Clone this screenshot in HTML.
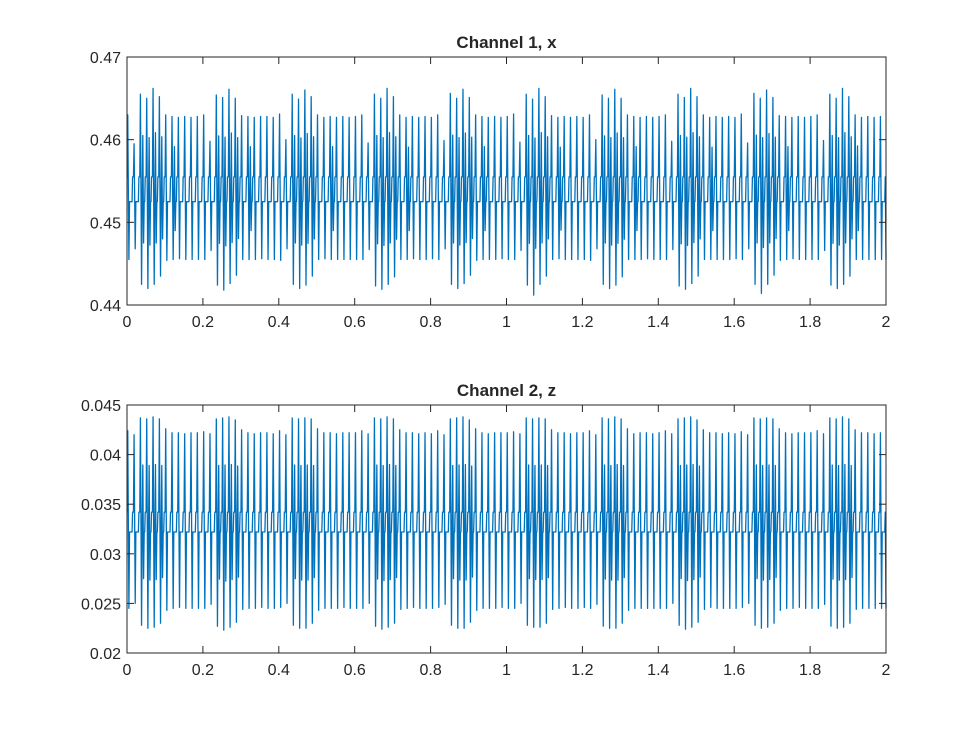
<!DOCTYPE html>
<html><head><meta charset="utf-8"><style>
body{margin:0;background:#fff;}
svg text{font-family:"Liberation Sans",Arial,sans-serif;fill:#262626;}
</style></head><body>
<svg id="fig" width="980" height="735" viewBox="0 0 980 735" xmlns="http://www.w3.org/2000/svg">
<rect width="980" height="735" fill="#fff"/>
</svg>
<script>
// ---- data (per-cycle peaks/troughs, 60 cycles per second) ----
const xTicks = [0,0.2,0.4,0.6,0.8,1,1.2,1.4,1.6,1.8,2];
const xTickLabels = ["0","0.2","0.4","0.6","0.8","1","1.2","1.4","1.6","1.8","2"];
const yTicks1 = [0.44,0.45,0.46,0.47];
const yTickLabels1 = ["0.44","0.45","0.46","0.47"];
const yTicks2 = [0.02,0.025,0.03,0.035,0.04,0.045];
const yTickLabels2 = ["0.02","0.025","0.03","0.035","0.04","0.045"];
const cyclesPerSecond = 60;
const peaks1 = [
.4630,.4595,.4655,.4650,.4662,.4652,.4630,.4628,.4627,.4628,.4627,.4628,
.4630,.4598,.4654,.4651,.4661,.4650,.4629,.4628,.4627,.4628,.4628,.4627,
.4631,.4600,.4655,.4649,.4660,.4652,.4630,.4627,.4628,.4627,.4628,.4627,
.4628,.4630,.4596,.4655,.4650,.4662,.4652,.4630,.4627,.4628,.4627,.4628,
.4627,.4630,.4599,.4656,.4650,.4661,.4651,.4630,.4628,.4627,.4628,.4627,
.4628,.4631,.4597,.4655,.4649,.4662,.4652,.4629,.4627,.4628,.4627,.4628,
.4627,.4630,.4600,.4654,.4650,.4661,.4650,.4630,.4628,.4627,.4628,.4627,
.4628,.4630,.4598,.4655,.4651,.4662,.4652,.4630,.4627,.4628,.4627,.4628,
.4627,.4631,.4596,.4656,.4650,.4660,.4651,.4629,.4628,.4627,.4628,.4627,
.4628,.4630,.4599,.4655,.4650,.4662,.4652,.4630,.4627,.4628,.4627,.4628];
const troughs1 = [
.4455,.4468,.4425,.4420,.4425,.4435,.4454,.4455,.4456,.4455,.4455,.4455,
.4455,.4466,.4424,.4418,.4426,.4436,.4455,.4455,.4455,.4456,.4455,.4455,
.4454,.4468,.4425,.4420,.4424,.4435,.4455,.4456,.4455,.4455,.4455,.4455,
.4455,.4455,.4467,.4423,.4419,.4425,.4434,.4455,.4455,.4456,.4455,.4455,
.4456,.4455,.4468,.4425,.4420,.4426,.4436,.4454,.4455,.4455,.4455,.4456,
.4455,.4455,.4466,.4424,.4412,.4425,.4435,.4455,.4456,.4455,.4455,.4455,
.4455,.4454,.4468,.4425,.4420,.4424,.4434,.4455,.4455,.4455,.4456,.4455,
.4455,.4455,.4467,.4423,.4419,.4426,.4435,.4455,.4455,.4455,.4455,.4455,
.4456,.4455,.4468,.4425,.4414,.4425,.4436,.4454,.4455,.4456,.4455,.4455,
.4455,.4455,.4466,.4424,.4420,.4425,.4435,.4455,.4455,.4455,.4455,.4455];
const peaks2 = [
.0424,.0420,.0437,.0436,.0438,.0436,.0426,.0422,.0422,.0421,.0422,.0422,
.0423,.0421,.0436,.0437,.0438,.0435,.0425,.0422,.0421,.0422,.0422,.0421,
.0424,.0420,.0437,.0436,.0437,.0436,.0426,.0422,.0422,.0421,.0422,.0422,
.0422,.0424,.0421,.0437,.0436,.0438,.0436,.0425,.0422,.0422,.0421,.0422,
.0421,.0424,.0420,.0436,.0437,.0438,.0435,.0426,.0422,.0421,.0422,.0422,
.0422,.0423,.0421,.0437,.0436,.0437,.0436,.0425,.0422,.0422,.0421,.0422,
.0422,.0424,.0420,.0437,.0436,.0438,.0436,.0426,.0421,.0422,.0422,.0421,
.0422,.0424,.0421,.0436,.0437,.0438,.0435,.0425,.0422,.0422,.0421,.0422,
.0421,.0423,.0420,.0437,.0436,.0437,.0436,.0426,.0422,.0421,.0422,.0422,
.0422,.0424,.0421,.0437,.0436,.0438,.0436,.0425,.0422,.0422,.0421,.0422];
const troughs2 = [
.0245,.0250,.0228,.0225,.0226,.0230,.0243,.0245,.0246,.0245,.0245,.0245,
.0245,.0249,.0227,.0223,.0226,.0231,.0244,.0245,.0245,.0246,.0245,.0245,
.0246,.0250,.0228,.0225,.0225,.0230,.0243,.0245,.0245,.0245,.0246,.0245,
.0245,.0245,.0250,.0227,.0224,.0226,.0230,.0244,.0245,.0246,.0245,.0245,
.0245,.0246,.0249,.0228,.0225,.0225,.0231,.0243,.0245,.0245,.0245,.0246,
.0245,.0245,.0250,.0228,.0226,.0226,.0230,.0244,.0245,.0246,.0245,.0245,
.0246,.0245,.0249,.0227,.0225,.0225,.0230,.0243,.0245,.0245,.0245,.0245,
.0245,.0245,.0250,.0228,.0224,.0226,.0231,.0244,.0246,.0245,.0245,.0245,
.0245,.0246,.0250,.0228,.0225,.0226,.0230,.0243,.0245,.0245,.0246,.0245,
.0245,.0245,.0249,.0227,.0225,.0226,.0230,.0244,.0245,.0245,.0245,.0245];
const midLevels1 = [0.4555,0.4525];
const midLevels2 = [0.0342,0.0322];

const NS = "http://www.w3.org/2000/svg";
const svg = document.getElementById('fig');
function mk(tag, attrs, parent){const e=document.createElementNS(NS,tag);for(const k in attrs)e.setAttribute(k,attrs[k]);(parent||svg).appendChild(e);return e;}

function drawAxes(cfg){
  const {top,bottom,left,right,ymin,ymax,yT,yL,title,peaks,troughs,mids,name}=cfg;
  const xs = v => left + (v-0)/(2-0)*(right-left);
  const ys = v => bottom - (v-ymin)/(ymax-ymin)*(bottom-top);
  const g = mk('g',{});
  
  
  mk('rect',{x:left,y:top,width:right-left,height:bottom-top,fill:'#fff'},g);
  let pts=[];
  pts.push([xs(0),ys(mids[0])]);
  for(let k=0;k<peaks.length;k++){
    const t0=k/cyclesPerSecond, d=1/cyclesPerSecond;
    const burst = peaks[k] > peaks[(k+6)%peaks.length] + (ymax-ymin)*0.03;
    pts.push([xs(t0+0.02*d),ys(mids[0])]);
    pts.push([xs(t0+0.12*d),ys(peaks[k])]);
    pts.push([xs(t0+0.3*d),ys(troughs[k])]);
    pts.push([xs(t0+0.4*d),ys(mids[1])]);
    if(burst){
      pts.push([xs(t0+0.5*d),ys((mids[0]+peaks[k])/2)]);
      pts.push([xs(t0+0.62*d),ys((mids[1]+troughs[k])/2)]);
      pts.push([xs(t0+0.72*d),ys(mids[1])]);
    }
    pts.push([xs(t0+0.8*d),ys(mids[1])]);
    pts.push([xs(t0+0.88*d),ys(mids[0])]);
  }
  pts.push([xs(2),ys(troughs[troughs.length-1])]);
  const line = mk('polyline',{points:pts.map(p=>p[0].toFixed(2)+','+p[1].toFixed(2)).join(' '),fill:'none',stroke:'#0072BD','stroke-width':1.3,'stroke-linejoin':'round'},g);
  
  
  mk('rect',{x:left,y:top,width:right-left,height:bottom-top,fill:'none',stroke:'#262626','stroke-width':1},g);
  xTicks.forEach((v,i)=>{
    const x=xs(v);
    mk('line',{x1:x,y1:bottom,x2:x,y2:bottom-7,stroke:'#262626'},g);
    mk('line',{x1:x,y1:top,x2:x,y2:top+7,stroke:'#262626'},g);
    const t=mk('text',{x:x,y:bottom+22,'text-anchor':'middle','font-size':'16'},g);
    t.textContent=xTickLabels[i];
    
    
  });
  yT.forEach((v,i)=>{
    const y=ys(v);
    mk('line',{x1:left,y1:y,x2:left+7,y2:y,stroke:'#262626'},g);
    mk('line',{x1:right,y1:y,x2:right-7,y2:y,stroke:'#262626'},g);
    const t=mk('text',{x:left-6,y:y+6,'text-anchor':'end','font-size':'16'},g);
    t.textContent=yL[i];
    
    
  });
  const tt=mk('text',{x:(left+right)/2,y:top-9,'text-anchor':'middle','font-size':'17','font-weight':'bold'},g);
  tt.textContent=title;
  
  
}
drawAxes({top:57,bottom:305,left:127,right:886,ymin:0.44,ymax:0.47,yT:yTicks1,yL:yTickLabels1,title:'Channel 1, x',peaks:peaks1,troughs:troughs1,mids:midLevels1,name:'channel1'});
drawAxes({top:405,bottom:653,left:127,right:886,ymin:0.02,ymax:0.045,yT:yTicks2,yL:yTickLabels2,title:'Channel 2, z',peaks:peaks2,troughs:troughs2,mids:midLevels2,name:'channel2'});
</script>
</body></html>
